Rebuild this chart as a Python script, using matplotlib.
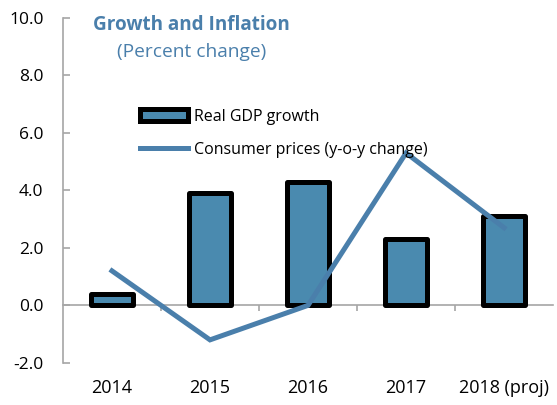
import numpy as np
import matplotlib.pyplot as plt
from matplotlib.patches import Patch
from matplotlib.lines import Line2D

plt.rcParams['font.family'] = ['Open Sans', 'DejaVu Sans']

years = ['2014', '2015', '2016', '2017', '2018 (proj)']
gdp_growth = [0.4, 3.9, 4.3, 2.3, 3.1]
consumer_prices = [1.2, -1.2, 0.0, 5.3, 2.7]

bar_color = '#4A8AAF'
line_color = '#4A7FAB'
gray = '#A6A6A6'

fig = plt.figure(figsize=(5.57, 4.05), dpi=100)
ax = fig.add_axes([0.113, 0.104, 0.88, 0.852])

x = np.arange(len(years))
ax.bar(x, gdp_growth, width=0.43, color=bar_color, edgecolor='black',
       linewidth=3.6, joinstyle='round', zorder=2)
ax.plot(x, consumer_prices, color=line_color, linewidth=3.6, zorder=3,
        solid_joinstyle='miter')

ax.set_xlim(-0.5, len(years) - 0.5)
ax.set_ylim(-2, 10)
ax.set_yticks(np.arange(-2, 10.1, 2))
ax.set_yticklabels([f'{v:.1f}' for v in np.arange(-2, 10.1, 2)])

for s in ['top', 'right']:
    ax.spines[s].set_visible(False)
ax.spines['left'].set_color(gray)
ax.spines['left'].set_linewidth(1.2)
ax.spines['bottom'].set_position(('data', 0))
ax.spines['bottom'].set_color(gray)
ax.spines['bottom'].set_linewidth(1.2)
ax.spines['bottom'].set_zorder(1)

ax.tick_params(axis='y', direction='in', length=5, color=gray, width=1.2,
               labelsize=12.5, pad=14)
ax.set_xticks(x)
ax.set_xticklabels(years)
ax.set_xticks(np.arange(0.5, len(years) - 0.5, 1), minor=True)
ax.tick_params(axis='x', which='major', length=0, labelsize=13, pad=53)
ax.tick_params(axis='x', which='minor', direction='out', length=4,
               color=gray, width=1.2)

ax.text(0.263, 0.978, 'Growth and Inflation', transform=ax.transAxes,
        ha='center', va='center', fontsize=13.6, fontweight='bold',
        color=line_color)
ax.text(0.263, 0.9, '(Percent change)', transform=ax.transAxes,
        ha='center', va='center', fontsize=13.8, color=line_color)

handles = [Patch(facecolor=bar_color, edgecolor='black', linewidth=3.6,
                 joinstyle='round'),
           Line2D([0], [0], color=line_color, linewidth=3.6)]
ax.legend(handles, ['Real GDP growth', 'Consumer prices (y-o-y change)'],
          loc='upper left', bbox_to_anchor=(0.157, 0.737), frameon=False,
          borderpad=0, borderaxespad=0,
          fontsize=11.5, handlelength=3.0, handleheight=0.8,
          handletextpad=0.4, labelspacing=1.1)

fig.savefig('out.png', dpi=100)
